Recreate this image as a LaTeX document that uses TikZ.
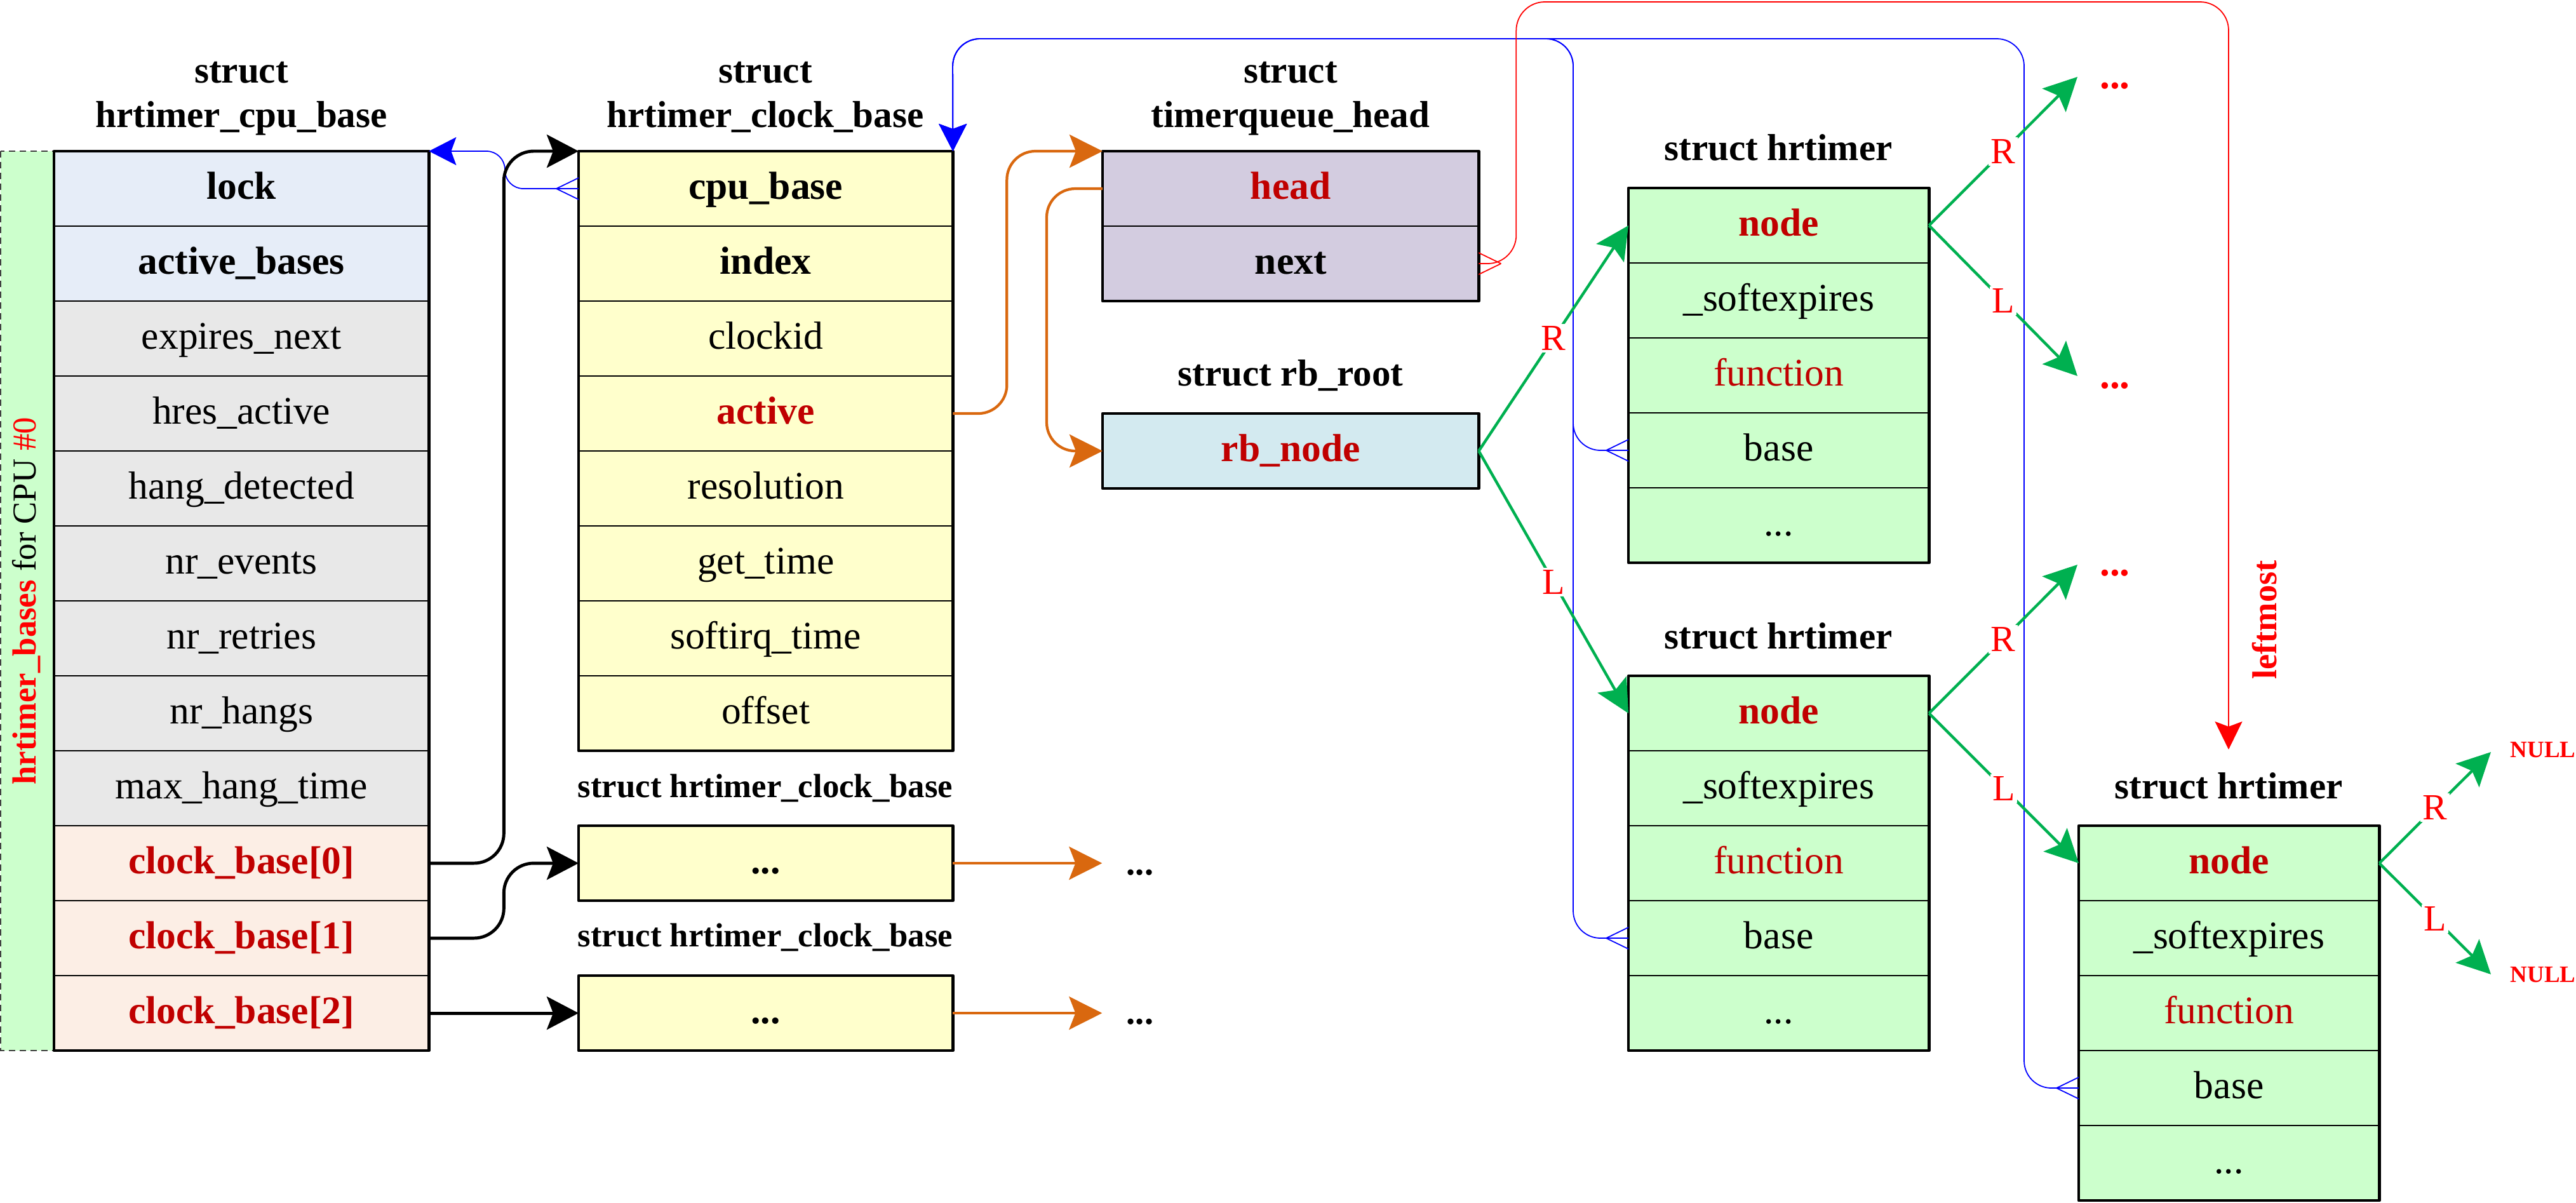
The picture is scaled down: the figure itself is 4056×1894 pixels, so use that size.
\documentclass[tikz,border=0pt]{standalone}
\usepackage{fontspec}
\setmainfont{Liberation Serif}
\usetikzlibrary{arrows.meta,calc}
\definecolor{cBlue}{HTML}{E6EDF8}
\definecolor{cGray}{HTML}{E8E8E8}
\definecolor{cPeach}{HTML}{FCEEE5}
\definecolor{cYellow}{HTML}{FFFFCC}
\definecolor{cPurple}{HTML}{D3CCE0}
\definecolor{cCyan}{HTML}{D3EAF0}
\definecolor{cGreen}{HTML}{CCFFCC}
\definecolor{dRed}{HTML}{C00000}
\definecolor{aRed}{HTML}{FF0000}
\definecolor{aOrange}{HTML}{D9680F}
\definecolor{aGreen}{HTML}{00B050}
\definecolor{aBlue}{HTML}{0000FF}
\newcommand\crowL[2]{\draw[#2] ([xshift=-0.35cm]#1) -- ([yshift=0.17cm]#1) ([xshift=-0.35cm]#1) -- ([yshift=-0.17cm]#1);}
\newcommand\crowR[2]{\draw[#2] ([xshift=0.35cm]#1) -- ([yshift=0.17cm]#1) ([xshift=0.35cm]#1) -- ([yshift=-0.17cm]#1);}
\tikzset{
 cellbase/.style={draw=black, line width=0.5pt, minimum height=1.18cm, inner sep=0pt, outer sep=0pt,
   text height=0.44cm, text depth=0.12cm, anchor=north west, font=\fontsize{17.5}{21}\selectfont},
 wCpu/.style={cellbase, minimum width=5.9cm},
 wClk/.style={cellbase, minimum width=5.89cm, fill=cYellow},
 wTq/.style={cellbase, minimum width=5.92cm},
 wHr/.style={cellbase, minimum width=4.73cm, fill=cGreen},
 bf/.style={font=\fontsize{17.5}{21}\selectfont\bfseries},
 hl/.style={bf, text=dRed},
 fn/.style={text=dRed},
 outer/.style={draw=black, line width=1.35pt, line join=round},
 title/.style={anchor=base, inner sep=0pt, font=\fontsize{16.8}{20}\selectfont\bfseries},
 subtitle/.style={anchor=base, inner sep=0pt, font=\fontsize{15}{18}\selectfont\bfseries},
 band/.style={fill=cGreen, draw=black!75, line width=0.45pt, dash pattern=on 0.1cm off 0.07cm},
 bandtext/.style={inner sep=0pt, font=\fontsize{15}{18}\selectfont},
 blackarr/.style={draw=black, line width=1.4pt, rounded corners=0.47cm, -{Stealth[length=0.5cm,width=0.52cm,inset=0.1cm]}},
 orangearr/.style={draw=aOrange, line width=1.2pt, rounded corners=0.45cm, -{Stealth[length=0.52cm,width=0.52cm,inset=0.1cm]}},
 greenarr/.style={draw=aGreen, line width=1.25pt, -{Stealth[length=0.52cm,width=0.52cm,inset=0.1cm]}},
 bluearr/.style={draw=aBlue, line width=0.5pt, rounded corners=0.43cm, -{Stealth[length=0.43cm,width=0.44cm,inset=0.08cm]}},
 blueline/.style={draw=aBlue, line width=0.5pt},
 redarr/.style={draw=aRed, line width=0.5pt, rounded corners=0.45cm, -{Stealth[length=0.44cm,width=0.43cm,inset=0.08cm]}},
 redline/.style={draw=aRed, line width=0.5pt},
 lbl/.style={fill=white, inner sep=1pt, text=aRed, font=\fontsize{16.5}{20}\selectfont},
 reddots/.style={inner sep=0pt, text=aRed, font=\fontsize{18}{20}\selectfont\bfseries},
 blackdots/.style={inner sep=0pt, font=\fontsize{16}{18}\selectfont\bfseries},
 nulltext/.style={inner sep=0pt, text=aRed, font=\fontsize{10.5}{12}\selectfont\bfseries},
 lmtext/.style={inner sep=0pt, text=aRed, font=\fontsize{15.5}{18}\selectfont\bfseries},
}
\begin{document}
\begin{tikzpicture}[x=0.01cm, y=-0.01cm]
\useasboundingbox (0,0) rectangle (4056,1894);

% ---------- band ----------
\draw[band] (1,238) rectangle (85,1654);
\node[bandtext, rotate=90] (bandlbl) at (42,946)
  {{\bfseries\color{aRed}hrtimer\_bases} for CPU {\color{aRed}\#0}};

% ---------- hrtimer_cpu_base ----------
\node[title] (tcpu1) at (380,131) {struct};
\node[title] (tcpu2) at (380,201) {hrtimer\_cpu\_base};
\node[wCpu, fill=cBlue, bf] (l0) at (85,238) {lock};
\node[wCpu, fill=cBlue, bf] (l1) at (85,356) {active\_bases};
\node[wCpu, fill=cGray] (l2) at (85,474) {expires\_next};
\node[wCpu, fill=cGray] (l3) at (85,592) {hres\_active};
\node[wCpu, fill=cGray] (l4) at (85,710) {hang\_detected};
\node[wCpu, fill=cGray] (l5) at (85,828) {nr\_events};
\node[wCpu, fill=cGray] (l6) at (85,946) {nr\_retries};
\node[wCpu, fill=cGray] (l7) at (85,1064) {nr\_hangs};
\node[wCpu, fill=cGray] (l8) at (85,1182) {max\_hang\_time};
\node[wCpu, fill=cPeach, hl] (l9) at (85,1300) {clock\_base[0]};
\node[wCpu, fill=cPeach, hl] (l10) at (85,1418) {clock\_base[1]};
\node[wCpu, fill=cPeach, hl] (l11) at (85,1536) {clock\_base[2]};
\draw[outer] (l0.north west) rectangle (l11.south east);

% ---------- hrtimer_clock_base ----------
\node[title] (tclk1) at (1205,131) {struct};
\node[title] (tclk2) at (1205,201) {hrtimer\_clock\_base};
\node[wClk, bf] (c0) at (911,238) {cpu\_base};
\node[wClk, bf] (c1) at (911,356) {index};
\node[wClk] (c2) at (911,474) {clockid};
\node[wClk, hl] (c3) at (911,592) {active};
\node[wClk] (c4) at (911,710) {resolution};
\node[wClk] (c5) at (911,828) {get\_time};
\node[wClk] (c6) at (911,946) {softirq\_time};
\node[wClk] (c7) at (911,1064) {offset};
\draw[outer] (c0.north west) rectangle (c7.south east);

\node[subtitle] (ts1) at (1205,1255) {struct hrtimer\_clock\_base};
\node[wClk, bf] (s1) at (911,1300) {...};
\draw[outer] (s1.north west) rectangle (s1.south east);
\node[subtitle] (ts2) at (1205,1490) {struct hrtimer\_clock\_base};
\node[wClk, bf] (s2) at (911,1536) {...};
\draw[outer] (s2.north west) rectangle (s2.south east);

% ---------- timerqueue_head ----------
\node[title] (ttq1) at (2032,131) {struct};
\node[title] (ttq2) at (2032,201) {timerqueue\_head};
\node[wTq, fill=cPurple, hl] (q0) at (1736,238) {head};
\node[wTq, fill=cPurple, bf] (q1) at (1736,356) {next};
\draw[outer] (q0.north west) rectangle (q1.south east);

% ---------- rb_root ----------
\node[title] (trb) at (2032,607) {struct rb\_root};
\node[wTq, fill=cCyan, hl] (rb) at (1736,651) {rb\_node};
\draw[outer] (rb.north west) rectangle (rb.south east);

% ---------- hrtimer 1 ----------
\node[title] (th1) at (2800,253) {struct hrtimer};
\node[wHr, hl] (h1n) at (2564,296) {node};
\node[wHr] (h1s) at (2564,414) {\_softexpires};
\node[wHr, fn] (h1f) at (2564,532) {function};
\node[wHr] (h1b) at (2564,650) {base};
\node[wHr] (h1d) at (2564,768) {...};
\draw[outer] (h1n.north west) rectangle (h1d.south east);

% ---------- hrtimer 2 ----------
\node[title] (th2) at (2800,1021) {struct hrtimer};
\node[wHr, hl] (h2n) at (2564,1064) {node};
\node[wHr] (h2s) at (2564,1182) {\_softexpires};
\node[wHr, fn] (h2f) at (2564,1300) {function};
\node[wHr] (h2b) at (2564,1418) {base};
\node[wHr] (h2d) at (2564,1536) {...};
\draw[outer] (h2n.north west) rectangle (h2d.south east);

% ---------- hrtimer 3 ----------
\node[title] (th3) at (3509,1257) {struct hrtimer};
\node[wHr, hl] (h3n) at (3273,1300) {node};
\node[wHr] (h3s) at (3273,1418) {\_softexpires};
\node[wHr, fn] (h3f) at (3273,1536) {function};
\node[wHr] (h3b) at (3273,1654) {base};
\node[wHr] (h3d) at (3273,1772) {...};
\draw[outer] (h3n.north west) rectangle (h3d.south east);

% ---------- helper coordinates ----------
\coordinate (topB) at (1500,61);
\coordinate (topR) at (3509,3);
\coordinate (lmend) at (3509,1180);
\coordinate (h1R) at (3271,121);
\coordinate (h1L) at (3271,592);
\coordinate (h2R) at (3271,889);
\coordinate (h3R) at (3922,1184);
\coordinate (h3L) at (3922,1534);

% ---------- blue links ----------
\draw[bluearr, rounded corners=0.29cm] (c0.west) -- ++(-116,0) |- (l0.north east);
\crowL{c0.west}{blueline}
\draw[bluearr] (h1b.west) -- ++(-87,0) |- (topB) -- (c0.north east);
\crowL{h1b.west}{blueline}
\draw[bluearr] (h2b.west) -- ++(-87,0) |- (topB) -- (c0.north east);
\crowL{h2b.west}{blueline}
\draw[bluearr] (h3b.west) -- ++(-86,0) |- (topB) -- (c0.north east);
\crowL{h3b.west}{blueline}

% ---------- red leftmost ----------
\draw[redarr] (q1.east) -- ++(59,0) |- (topR) -- (lmend);
\crowR{q1.east}{redline}
\node[lmtext, rotate=90] (lm) at (3566,976) {leftmost};

% ---------- black arrows ----------
\draw[blackarr] (l9.east) -- ++(118,0) |- (c0.north west);
\draw[blackarr] (l10.east) -- ++(118,0) |- (s1.west);
\draw[blackarr] (l11.east) -- (s2.west);

% ---------- orange arrows ----------
\draw[orangearr] (c3.east) -- ++(85,0) |- (q0.north west);
\draw[orangearr] (q0.west) -- ++(-88,0) |- (rb.west);
\draw[orangearr] (s1.east) -- ++(235,0) coordinate (e1);
\node[blackdots] (d1) at (1795,1374) {...};
\draw[orangearr] (s2.east) -- ++(235,0) coordinate (e2);
\node[blackdots] (d2) at (1795,1609) {...};

% ---------- green tree ----------
\draw[greenarr] (rb.east) -- node[lbl] (lr0) {R} (h1n.west);
\draw[greenarr] (rb.east) -- node[lbl] (ll0) {L} (h2n.west);
\draw[greenarr] (h1n.east) -- node[lbl] (lr1) {R} (h1R);
\draw[greenarr] (h1n.east) -- node[lbl] (ll1) {L} (h1L);
\node[reddots] (rd1) at (3330,135) {...};
\node[reddots] (rd2) at (3330,607) {...};
\draw[greenarr] (h2n.east) -- node[lbl] (lr2) {R} (h2R);
\draw[greenarr] (h2n.east) -- node[lbl] (ll2) {L} (h3n.west);
\node[reddots] (rd3) at (3330,902) {...};
\draw[greenarr] (h3n.east) -- node[lbl] (lr3) {R} (h3R);
\draw[greenarr] (h3n.east) -- node[lbl] (ll3) {L} (h3L);
\node[nulltext] (n1) at (4004,1181) {NULL};
\node[nulltext] (n2) at (4004,1535) {NULL};
\end{tikzpicture}
\end{document}
